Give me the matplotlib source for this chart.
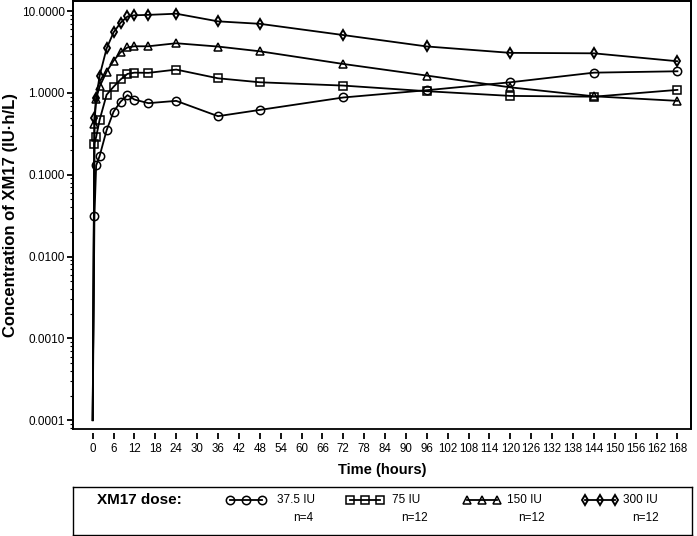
# Concentration-time profile of XM17 by dose (semi-log)

import matplotlib
matplotlib.use("Agg")
import matplotlib.pyplot as plt
from matplotlib.ticker import LogLocator, FixedLocator, FuncFormatter, NullFormatter
from matplotlib.patches import Rectangle

plt.rcParams['font.family'] = ['Liberation Sans', 'DejaVu Sans']

# ==============================
# DATA
# ==============================
tiempo = [0, 0.5, 1, 2, 4, 6, 8, 10, 12, 16, 24, 36, 48, 72, 96, 120, 144, 168]

dosis_37 = [0.0001, 0.031, 0.13, 0.17, 0.35, 0.59, 0.78, 0.94, 0.83, 0.75, 0.80,
            0.52, 0.62, 0.88, 1.08, 1.35, 1.77, 1.84]
dosis_75 = [0.0001, 0.24, 0.29, 0.47, 0.95, 1.19, 1.46, 1.71, 1.77, 1.76, 1.93,
            1.51, 1.35, 1.23, 1.05, 0.92, 0.90, 1.09]
dosis_150 = [0.0001, 0.42, 0.85, 1.2, 1.82, 2.48, 3.14, 3.6, 3.72, 3.72, 4.05,
             3.69, 3.23, 2.26, 1.63, 1.17, 0.91, 0.80]
dosis_300 = [0.0001, 0.50, 0.86, 1.63, 3.5, 5.5, 7.2, 8.6, 8.9, 9.0, 9.3,
             7.5, 7.0, 5.1, 3.7, 3.09, 3.05, 2.44]

series = [dosis_37, dosis_75, dosis_150, dosis_300]
etiquetas = ["37.5 IU", "75 IU", "150 IU", "300 IU"]
n_sujetos = ["n=4", "n=12", "n=12", "n=12"]
marcadores = ["o", "s", "^", "d"]
tam_marcador = [6, 5.5, 6, 5.5]
borde_marcador = [1.1, 1.1, 1.1, 1.4]

x_ticks = list(range(0, 169, 6))
y_ticks = [0.0001, 0.001, 0.01, 0.1, 1, 10]

# ==============================
# FIGURA
# ==============================
W, H = 697, 536
fig = plt.figure(figsize=(W / 100, H / 100), dpi=100)

# caja del grafico en pixeles
x0, x1, y0, y1 = 72.5, 691, 1, 429
ax = fig.add_axes([x0 / W, 1 - y1 / H, (x1 - x0) / W, (y1 - y0) / H])

for vals, m, ms, mw in zip(series, marcadores, tam_marcador, borde_marcador):
    ax.plot(tiempo, vals, color='black', lw=1.3, marker=m, ms=ms,
            mfc='none', mec='black', mew=mw, markevery=range(1, len(tiempo)))

ax.set_yscale('log')
ax.set_ylim(7.8e-5, 13.3)
ax.set_xlim(-5.8, 171.9)

# marco completo (el eje x va separado debajo)
for s in ['top', 'right', 'left']:
    ax.spines[s].set_linewidth(1.3)
ax.spines['bottom'].set_position(('outward', 3))
ax.spines['bottom'].set_visible(False)
ax.add_patch(Rectangle((0, 0), 1, 1, transform=ax.transAxes, fill=False,
                       lw=1.3, ec='black', clip_on=False, zorder=5))

ax.xaxis.set_major_locator(FixedLocator(x_ticks))
ax.set_xticklabels([str(t) for t in x_ticks], fontsize=8.3)
ax.tick_params(axis='x', direction='out', length=4, width=1.3, pad=3)

ax.yaxis.set_major_locator(FixedLocator(y_ticks))
ax.yaxis.set_major_formatter(FuncFormatter(lambda v, p: f"{v:.4f}"))
ax.yaxis.set_minor_locator(LogLocator(base=10, subs=range(2, 10)))
ax.yaxis.set_minor_formatter(NullFormatter())
ax.tick_params(axis='y', which='major', direction='out', length=4, width=1.3,
               pad=1.5, labelsize=8.5)
ax.tick_params(axis='y', which='minor', direction='out', length=2.2, width=0.8)

ax.set_xlabel("Time (hours)", fontsize=10.5, fontweight='bold', labelpad=6)
ax.set_ylabel("Concentration of XM17 (IU\u00b7h/L)", fontsize=12,
              fontweight='bold', labelpad=3)

# ==============================
# LEYENDA (caja inferior)
# ==============================
lx0, lx1, ly0, ly1 = 72.5, 692, 487, 535
lax = fig.add_axes([lx0 / W, 1 - ly1 / H, (lx1 - lx0) / W, (ly1 - ly0) / H])
lax.set_xlim(lx0, lx1)
lax.set_ylim(ly1, ly0)
lax.set_xticks([])
lax.set_yticks([])
for s in lax.spines.values():
    s.set_linewidth(1.0)

lax.text(97, 500, "XM17 dose:", fontsize=11, fontweight='bold', va='center', ha='left')

muestra_x = [230, 350, 467, 585]
paso = [16, 15, 15, 15]
texto_x = [277, 392, 507, 623]
n_x = [293, 401, 518, 632]
for xs, st, tx, nx, m, ms, mw, lab, n in zip(muestra_x, paso, texto_x, n_x, marcadores,
                                            tam_marcador, borde_marcador, etiquetas, n_sujetos):
    lax.plot([xs, xs + st, xs + 2 * st], [500, 500, 500], color='black', lw=1.3,
             marker=m, ms=ms, mfc='none', mec='black', mew=mw)
    lax.text(tx, 500, lab, fontsize=8.5, va='center', ha='left')
    lax.text(nx, 518, n, fontsize=8.5, va='center', ha='left')

plt.savefig("out.png", dpi=100)
plt.close()
